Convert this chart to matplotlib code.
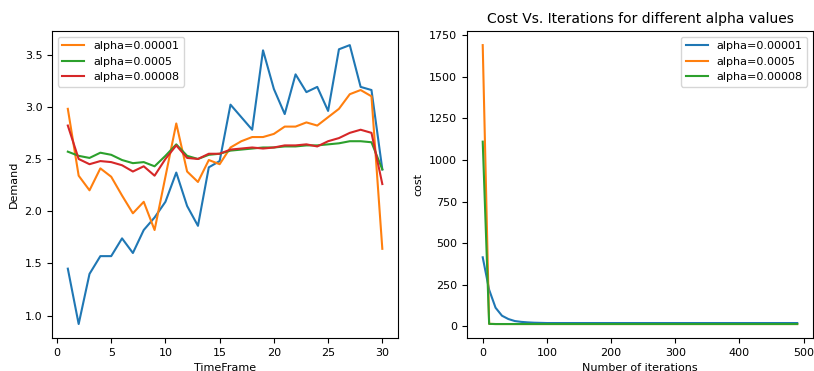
import numpy as np
import matplotlib.pyplot as plt

plt.rc('font', size=8)
plt.rc('axes', titlesize=10)
plt.rc('legend', fontsize=8)

# left panel: demand over time frames
timeframe = list(range(1, 31))
actual = [1.45, 0.92, 1.40, 1.57, 1.57, 1.74, 1.60, 1.82, 1.94, 2.09,
          2.37, 2.05, 1.86, 2.42, 2.48, 3.02, 2.90, 2.78, 3.54, 3.17,
          2.93, 3.31, 3.14, 3.19, 2.96, 3.55, 3.59, 3.19, 3.16, 2.40]
pred_a1 = [2.98, 2.34, 2.20, 2.41, 2.33, 2.15, 1.98, 2.09, 1.82, 2.33,
           2.84, 2.38, 2.28, 2.49, 2.45, 2.61, 2.67, 2.71, 2.71, 2.74,
           2.81, 2.81, 2.85, 2.82, 2.90, 2.98, 3.12, 3.16, 3.10, 1.64]
pred_a2 = [2.57, 2.53, 2.51, 2.56, 2.54, 2.49, 2.46, 2.47, 2.43, 2.53,
           2.64, 2.53, 2.50, 2.54, 2.55, 2.58, 2.59, 2.60, 2.61, 2.61,
           2.62, 2.62, 2.63, 2.63, 2.64, 2.65, 2.67, 2.67, 2.66, 2.40]
pred_a3 = [2.82, 2.50, 2.45, 2.48, 2.47, 2.44, 2.38, 2.43, 2.34, 2.50,
           2.63, 2.51, 2.50, 2.55, 2.55, 2.59, 2.60, 2.61, 2.60, 2.61,
           2.63, 2.63, 2.64, 2.62, 2.67, 2.70, 2.75, 2.78, 2.75, 2.26]
labels = ["alpha=0.00001", "alpha=0.0005", "alpha=0.00008"]

# right panel: cost history, recorded every 10 iterations
iters = list(range(0, 500, 10))
cost_a1 = [415, 220, 112, 64, 44, 32, 27, 24, 22, 21] + [20] * 40
cost_a2 = [1690, 15] + [14] * 48
cost_a3 = [1110, 15] + [14] * 48

fig = plt.figure(figsize=(8.14, 3.71), dpi=100)
ax1 = fig.add_axes([0.064, 0.089, 0.425, 0.827])
ax2 = fig.add_axes([0.5737, 0.089, 0.425, 0.827])

ax1.plot(timeframe, actual)
ax1.plot(timeframe, pred_a1, label=labels[0])
ax1.plot(timeframe, pred_a2, label=labels[1])
ax1.plot(timeframe, pred_a3, label=labels[2])
ax1.set_xlabel("TimeFrame")
ax1.set_ylabel("Demand")
ax1.legend(loc="upper left")

ax2.plot(iters, cost_a1, label=labels[0])
ax2.plot(iters, cost_a2, label=labels[1])
ax2.plot(iters, cost_a3, label=labels[2])
ax2.set_title("Cost Vs. Iterations for different alpha values")
ax2.set_xlabel("Number of iterations")
ax2.set_ylabel("cost")
ax2.legend(loc="upper right")

fig.savefig("out.png")
